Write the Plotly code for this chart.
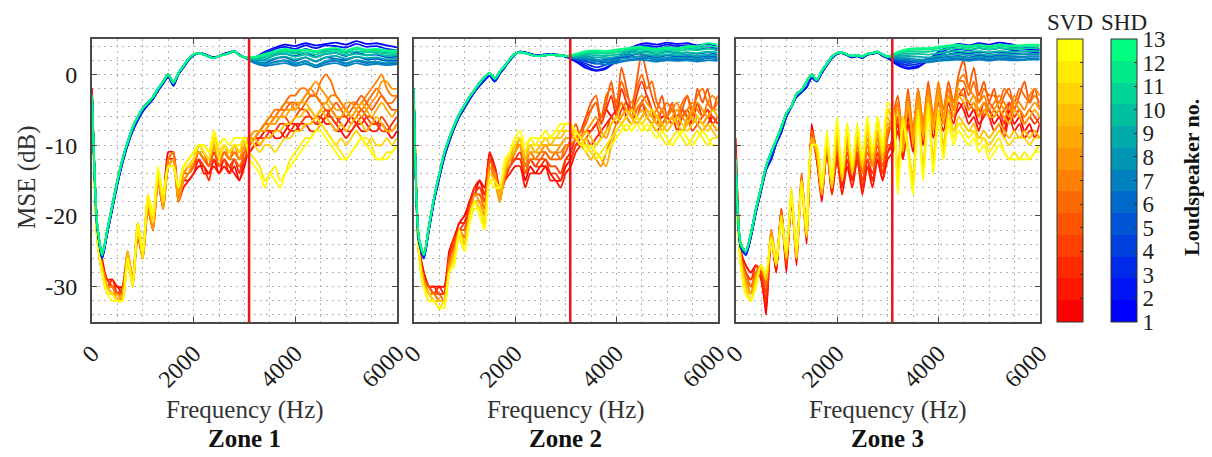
import plotly.graph_objects as go

W, H = 1212, 457
OFF = 8  # page offset of the figure (browser body margin)
FONT = "Liberation Serif"

# ---------------- axes / labels ----------------
FREQ_LOW = list(range(0, 3001, 100))        # shared low band grid (Hz)
FREQ_SVD_HIGH = list(range(3100, 6001, 100))
FREQ_SHD_HIGH = list(range(3200, 6001, 200))
DIVIDER_HZ = 3090
ZONES = ["Zone 1", "Zone 2", "Zone 3"]
X_TICKS = [0, 2000, 4000, 6000]
X_TICKTEXT = ["0", "2000", "4000", "6000"]
Y_TICKS = [-30, -20, -10, 0]
Y_TICKTEXT = ["-30", "-20", "-10", "0"]
SPEAKERS = list(range(1, 14))

# ---------------- Zone 1 ----------------
Z1_SVD_LOW = [
    [-2,-21,-26,-29,-29,-30,-30,-26,-29,-22,-26,-18,-21,-15,-18,-11,-11,-17,-15,-15,-14,-13,-13,-14,-12,-14,-13,-14,-13,-15,-13],
    [-2,-22,-27,-29,-30,-30,-31,-26,-30,-23,-26,-19,-22,-15,-19,-12,-11,-18,-16,-15,-14,-12,-14,-14,-13,-14,-12,-13,-14,-15,-12],
    [-3,-22,-27,-30,-29,-31,-30,-25,-29,-22,-25,-18,-21,-14,-18,-12,-12,-17,-15,-14,-13,-12,-13,-15,-12,-13,-12,-14,-12,-14,-11],
    [-3,-22,-27,-29,-30,-31,-31,-26,-29,-21,-25,-18,-21,-15,-19,-13,-12,-18,-14,-14,-13,-11,-12,-13,-11,-13,-12,-13,-12,-13,-12],
    [-3,-22,-27,-30,-30,-31,-31,-26,-30,-22,-25,-18,-21,-14,-18,-13,-12,-17,-14,-13,-12,-11,-12,-13,-10,-12,-11,-12,-11,-12,-11],
    [-3,-22,-28,-30,-31,-31,-32,-26,-29,-22,-26,-19,-22,-15,-19,-13,-12,-18,-15,-14,-13,-10,-11,-13,-10,-13,-11,-12,-12,-13,-11],
    [-3,-23,-28,-30,-30,-32,-31,-25,-29,-21,-25,-17,-21,-14,-18,-12,-11,-17,-14,-13,-12,-11,-12,-12,-9,-12,-10,-11,-11,-12,-10],
    [-3,-22,-27,-30,-31,-31,-32,-26,-30,-22,-25,-18,-22,-15,-18,-13,-13,-18,-15,-14,-12,-10,-11,-12,-9,-11,-10,-12,-10,-12,-10],
    [-3,-23,-28,-30,-31,-32,-31,-26,-29,-22,-26,-18,-21,-14,-19,-13,-12,-17,-14,-13,-12,-11,-11,-12,-10,-12,-10,-11,-10,-11,-10],
    [-3,-23,-28,-30,-31,-32,-32,-25,-29,-21,-25,-17,-20,-14,-18,-13,-13,-16,-13,-12,-11,-10,-11,-12,-9,-11,-10,-11,-10,-11,-9],
    [-3,-23,-28,-31,-31,-32,-32,-26,-30,-21,-25,-17,-20,-14,-17,-13,-13,-16,-13,-12,-11,-10,-10,-11,-8,-11,-10,-11,-10,-11,-9],
    [-3,-23,-28,-31,-31,-32,-32,-26,-30,-22,-26,-18,-21,-14,-18,-13,-13,-16,-13,-13,-12,-10,-11,-12,-9,-12,-10,-11,-10,-10,-9],
    [-3,-23,-28,-31,-32,-32,-32,-26,-30,-21,-25,-17,-20,-13,-17,-13,-13,-16,-13,-12,-11,-10,-10,-11,-8,-10,-9,-10,-9,-9,-9],
]
Z1_SVD_HIGH = [
    [-10,-9,-9,-8,-8,-9,-9,-8,-7,-7,-8,-7,-7,-6,-6,-7,-7,-8,-8,-7,-6,-7,-8,-8,-7,-7,-7,-8,-9,-8],
    [-11,-10,-10,-9,-9,-8,-8,-9,-8,-8,-7,-7,-8,-8,-7,-6,-6,-7,-8,-9,-8,-7,-6,-7,-8,-8,-7,-8,-8,-7],
    [-11,-10,-9,-9,-8,-8,-7,-7,-8,-7,-7,-6,-6,-7,-7,-6,-5,-6,-7,-8,-8,-7,-7,-6,-6,-7,-8,-8,-7,-6],
    [-10,-9,-8,-8,-7,-7,-6,-6,-7,-6,-5,-5,-6,-7,-6,-5,-6,-7,-6,-6,-7,-6,-5,-6,-7,-7,-6,-7,-8,-7],
    [-10,-9,-8,-7,-7,-6,-5,-5,-4,-4,-5,-4,-3,-3,-4,-5,-5,-4,-5,-6,-5,-4,-3,-4,-5,-4,-3,-4,-5,-5],
    [-9,-8,-8,-7,-6,-5,-5,-4,-3,-3,-2,-2,-3,-3,-1,0,-1,-3,-4,-5,-4,-4,-5,-4,-3,-2,-3,-4,-4,-3],
    [-9,-9,-8,-7,-6,-6,-5,-4,-4,-5,-4,-3,-2,-3,-4,-4,-3,-3,-4,-5,-6,-5,-4,-3,-2,-1,0,-2,-3,-3],
    [-10,-9,-8,-8,-7,-6,-6,-5,-5,-4,-4,-3,-2,-1,-2,-3,-4,-5,-5,-4,-4,-5,-6,-5,-4,-3,-1,-1,-2,-2],
    [-9,-8,-8,-8,-7,-7,-6,-6,-5,-5,-4,-4,-5,-6,-5,-4,-5,-6,-6,-5,-6,-5,-4,-5,-6,-5,-4,-5,-6,-5],
    [-9,-9,-10,-9,-9,-8,-8,-7,-7,-6,-6,-5,-5,-6,-5,-6,-7,-8,-7,-8,-7,-6,-7,-8,-7,-6,-7,-8,-8,-7],
    [-9,-10,-11,-10,-10,-11,-10,-9,-9,-8,-8,-7,-7,-6,-7,-8,-9,-10,-9,-10,-9,-8,-9,-10,-9,-10,-10,-9,-10,-9],
    [-11,-12,-13,-15,-14,-13,-15,-14,-12,-11,-10,-9,-9,-8,-7,-8,-9,-10,-11,-12,-11,-10,-9,-9,-10,-12,-12,-11,-11,-10],
    [-12,-13,-14,-16,-14,-15,-16,-14,-13,-12,-11,-10,-9,-8,-8,-9,-10,-11,-12,-12,-11,-10,-9,-10,-11,-12,-12,-12,-11,-10],
]
Z1_SHD_LOW = [-3,-21,-25.5,-22,-18.5,-15,-12,-9.6,-7.5,-6,-4.8,-4,-3.2,-2,-1,0,-1.2,0.2,1.2,2.2,2.8,3,2.8,2.5,2.3,2.6,2.8,3,3.3,2.7,2.4]
Z1_SHD_LOW_BLUE = [-3,-21.5,-26,-22.5,-19,-15.5,-12.5,-10,-8,-6.5,-5.2,-4.3,-3.5,-2.3,-1.3,-0.3,-1.6,0,1,2,2.7,3,2.9,2.6,2.4,2.6,2.9,3.1,3.3,2.8,2.4]
Z1_SHD_HIGH = [
    [2.4,3.2,3.8,4.2,4.0,4.4,4.1,4.3,4.5,4.2,4.7,4.3,4.4,4.1,3.8],
    [2.2,2.9,3.6,3.9,3.6,4.1,3.7,4.1,4.0,3.8,4.3,3.9,4.0,3.6,3.4],
    [2.1,2.5,3.2,3.5,3.0,3.6,3.2,3.4,3.6,3.1,3.7,3.3,3.2,3.0,2.9],
    [2.0,2.1,2.8,2.9,2.6,3.1,2.5,2.9,3.0,2.6,3.1,2.7,2.8,2.4,2.5],
    [1.8,1.6,2.2,2.4,1.9,2.4,1.8,2.4,2.2,2.0,2.5,2.1,2.2,1.9,2.0],
    [1.6,1.3,1.8,1.9,1.4,1.9,1.2,1.7,1.9,1.5,1.9,1.6,1.7,1.5,1.6],
    [1.7,1.2,1.4,1.6,1.2,1.5,1.0,1.4,1.6,1.2,1.6,1.3,1.5,1.3,1.4],
    [1.9,1.5,1.7,2.0,1.6,1.8,1.3,1.9,2.1,1.6,2.0,1.8,1.8,1.6,1.8],
    [2.1,1.9,2.3,2.5,2.1,2.4,1.9,2.4,2.6,2.2,2.5,2.3,2.4,2.1,2.3],
    [2.2,2.2,2.7,2.9,2.5,2.8,2.4,2.9,3.0,2.7,2.9,2.7,2.9,2.6,2.7],
    [2.3,2.5,3.0,3.2,2.9,3.1,2.8,3.2,3.3,3.0,3.3,3.1,3.2,2.9,3.0],
    [2.4,2.7,3.2,3.4,3.2,3.4,3.1,3.5,3.4,3.3,3.6,3.3,3.4,3.2,3.2],
    [2.5,2.9,3.3,3.6,3.4,3.5,3.3,3.6,3.7,3.4,3.8,3.5,3.6,3.4,3.4],
]

# ---------------- Zone 2 ----------------
Z2_SVD_LOW = [
    [-2,-24,-28,-30,-30,-30,-30,-25,-23,-21,-20,-18,-16,-15,-16,-11,-13,-16,-14,-13,-12,-12,-15,-13,-14,-13,-13,-14,-15,-15,-13],
    [-2,-24,-28,-30,-31,-30,-31,-26,-24,-21,-21,-18,-17,-15,-17,-11,-14,-17,-15,-14,-13,-13,-16,-14,-14,-14,-13,-15,-15,-16,-14],
    [-2,-24,-29,-30,-30,-31,-31,-26,-23,-22,-21,-19,-16,-16,-17,-12,-13,-17,-14,-13,-12,-11,-14,-12,-13,-13,-12,-14,-14,-15,-12],
    [-3,-25,-29,-30,-31,-31,-31,-26,-24,-22,-22,-19,-17,-16,-18,-12,-14,-17,-15,-13,-12,-12,-14,-12,-13,-12,-12,-13,-13,-14,-12],
    [-3,-24,-29,-30,-31,-31,-32,-26,-24,-22,-22,-19,-17,-17,-18,-12,-14,-18,-14,-13,-11,-10,-13,-11,-12,-12,-11,-12,-12,-12,-11],
    [-3,-25,-29,-31,-31,-32,-32,-27,-25,-22,-23,-20,-17,-17,-19,-13,-15,-18,-14,-12,-11,-10,-14,-12,-12,-11,-11,-12,-11,-12,-10],
    [-3,-25,-29,-31,-31,-32,-32,-27,-25,-23,-23,-20,-18,-18,-19,-13,-14,-17,-13,-12,-10,-10,-13,-11,-12,-11,-10,-11,-11,-11,-10],
    [-3,-25,-29,-31,-32,-32,-32,-27,-25,-22,-24,-20,-17,-18,-20,-13,-14,-17,-13,-12,-11,-9,-12,-10,-11,-11,-10,-11,-11,-10,-9],
    [-3,-25,-30,-31,-32,-32,-32,-28,-25,-23,-24,-20,-18,-18,-20,-14,-15,-18,-14,-12,-11,-10,-12,-11,-11,-10,-10,-10,-10,-10,-9],
    [-2,-25,-30,-31,-32,-32,-32,-28,-26,-22,-24,-20,-18,-19,-21,-14,-15,-17,-13,-12,-10,-9,-12,-10,-11,-10,-9,-10,-9,-9,-8],
    [-2,-25,-30,-31,-32,-33,-32,-28,-26,-23,-25,-20,-18,-19,-21,-14,-15,-16,-13,-11,-10,-9,-11,-10,-10,-10,-9,-9,-9,-8,-8],
    [-2,-25,-30,-32,-32,-33,-33,-28,-26,-23,-25,-21,-19,-19,-22,-15,-15,-16,-13,-11,-9,-9,-11,-9,-10,-9,-9,-9,-8,-8,-7],
    [-2,-25,-30,-32,-32,-33,-33,-28,-27,-22,-25,-21,-18,-20,-22,-15,-16,-16,-12,-11,-9,-8,-10,-9,-9,-9,-8,-9,-8,-7,-7],
]
Z2_SVD_HIGH = [
    [-12,-10,-9,-8,-8,-7,-6,-5,-6,-7,-6,-5,-6,-7,-6,-5,-6,-7,-6,-6,-7,-6,-5,-6,-7,-6,-7,-6,-7,-8],
    [-13,-11,-10,-9,-10,-9,-8,-7,-6,-5,-4,-6,-7,-5,-4,-6,-7,-8,-7,-6,-5,-7,-8,-7,-6,-7,-8,-7,-6,-7],
    [-11,-9,-8,-6,-5,-4,-7,-5,-3,-6,-2,-4,-6,-3,-1,-3,-5,-7,-5,-7,-6,-8,-6,-5,-7,-4,-6,-5,-7,-6],
    [-12,-10,-10,-9,-8,-7,-9,-8,-6,-7,-5,-4,-5,-6,-4,-3,-5,-6,-7,-8,-7,-6,-5,-6,-8,-7,-6,-5,-6,-7],
    [-9,-7,-9,-6,-4,-3,-7,-4,-1,-5,1,-2,-5,-1,3,0,-3,-5,-3,-6,-4,-7,-5,-3,-6,-2,-4,-2,-5,-3],
    [-10,-9,-8,-7,-5,-4,-6,-3,-2,-4,-1,-3,-4,-2,0,-2,-1,-4,-5,-4,-5,-6,-4,-3,-5,-3,-2,-4,-5,-4],
    [-10,-9,-9,-10,-11,-12,-13,-11,-9,-7,-6,-5,-6,-5,-4,-5,-6,-5,-7,-6,-5,-4,-6,-5,-4,-5,-6,-4,-3,-4],
    [-9,-8,-9,-8,-7,-6,-8,-9,-7,-6,-4,-5,-6,-4,-3,-4,-5,-6,-5,-7,-6,-5,-6,-7,-5,-4,-5,-6,-5,-5],
    [-9,-9,-10,-11,-12,-11,-12,-13,-10,-8,-7,-6,-7,-6,-5,-6,-7,-6,-8,-7,-6,-7,-8,-6,-5,-6,-7,-6,-5,-6],
    [-8,-8,-9,-8,-9,-10,-9,-8,-7,-6,-6,-5,-6,-7,-6,-5,-6,-7,-8,-7,-6,-7,-8,-7,-6,-7,-8,-7,-8,-9],
    [-8,-9,-10,-9,-11,-10,-9,-8,-7,-6,-7,-6,-5,-6,-7,-6,-5,-6,-7,-8,-7,-6,-7,-8,-7,-6,-7,-8,-7,-8],
    [-7,-9,-10,-10,-11,-12,-11,-10,-9,-8,-7,-8,-7,-6,-7,-8,-7,-8,-9,-10,-9,-8,-9,-10,-9,-8,-9,-10,-9,-9],
    [-7,-8,-9,-11,-10,-11,-12,-11,-10,-9,-8,-7,-8,-7,-8,-7,-8,-9,-8,-9,-10,-9,-8,-9,-10,-9,-8,-9,-10,-10],
]
Z2_SHD_LOW = [-2,-23,-25.5,-21.5,-17.5,-14.2,-11.2,-9,-7.2,-5.6,-4.4,-3.2,-2.2,-1.2,-0.4,0.2,-0.6,0.4,1.2,2.2,2.9,3.1,3.0,2.8,2.6,2.6,2.7,2.8,2.7,2.7,2.6]
Z2_SHD_LOW_BLUE = [-2,-23.5,-26,-22,-18,-14.8,-11.8,-9.5,-7.6,-6,-4.8,-3.6,-2.5,-1.6,-0.8,-0.2,-1.0,0.1,1.0,2.0,2.8,3.2,3.1,2.9,2.7,2.7,2.8,2.9,2.8,2.7,2.5]
Z2_SHD_HIGH = [
    [1.8,0.9,0.5,0.8,2.0,3.4,4.1,4.4,4.2,4.5,4.3,4.4,4.1,4.3,3.9],
    [1.9,1.2,0.6,1.0,1.8,3.0,3.8,4.1,3.9,4.2,4.0,4.1,3.8,4.0,3.6],
    [2.0,1.5,1.0,1.4,2.2,2.8,3.5,3.9,3.6,3.9,3.7,3.8,3.5,3.7,3.4],
    [2.1,1.8,1.5,1.8,2.3,2.5,2.9,3.2,2.9,3.2,3.0,3.1,2.9,3.1,2.8],
    [2.2,2.0,1.9,2.1,2.4,2.3,2.5,2.6,2.4,2.7,2.5,2.6,2.4,2.6,2.4],
    [2.2,2.1,2.0,1.7,1.8,2.0,2.2,2.3,2.0,2.2,2.1,2.2,2.0,2.3,2.1],
    [2.3,2.2,1.6,1.4,1.6,1.9,2.1,2.0,1.8,2.0,1.9,2.0,1.8,2.0,1.9],
    [2.4,2.4,2.1,1.9,2.1,2.3,2.5,2.4,2.2,2.4,2.3,2.4,2.2,2.4,2.3],
    [2.5,2.6,2.4,2.3,2.5,2.7,2.9,2.8,2.6,2.8,2.7,2.8,2.6,2.8,2.7],
    [2.6,2.8,2.7,2.6,2.8,3.0,3.2,3.1,2.9,3.1,3.0,3.1,3.0,3.2,3.1],
    [2.7,3.0,3.0,2.9,3.1,3.3,3.5,3.4,3.2,3.4,3.3,3.5,3.4,3.6,3.5],
    [2.8,3.2,3.2,3.1,3.3,3.5,3.7,3.6,3.4,3.6,3.5,3.8,3.7,4.0,3.9],
    [2.9,3.3,3.4,3.3,3.5,3.7,3.9,3.8,3.6,3.8,3.7,4.0,4.0,4.4,4.2],
]

# ---------------- Zone 3 ----------------
Z3_SVD_LOW = [
    [-9,-25,-27,-28,-27,-28,-34,-22,-28,-19,-28,-17,-27,-15,-24,-7,-12,-18,-10,-17,-11,-16,-12,-15,-11,-16,-12,-15,-12,-15,-11],
    [-10,-25,-27,-28,-27,-29,-33,-23,-28,-19,-27,-17,-26,-15,-23,-8,-12,-17,-10,-16,-12,-17,-13,-16,-12,-17,-13,-16,-12,-15,-12],
    [-11,-25,-28,-29,-27,-28,-32,-22,-27,-19,-27,-17,-26,-14,-23,-8,-11,-17,-11,-17,-12,-16,-12,-15,-12,-16,-13,-15,-11,-14,-11],
    [-12,-26,-28,-29,-28,-28,-31,-23,-27,-20,-27,-18,-25,-15,-22,-9,-12,-17,-11,-16,-11,-15,-11,-14,-11,-15,-12,-14,-11,-14,-10],
    [-13,-26,-28,-30,-28,-27,-30,-23,-27,-20,-26,-17,-26,-15,-23,-9,-11,-17,-10,-16,-10,-15,-10,-14,-10,-14,-11,-13,-10,-13,-9],
    [-13,-26,-29,-30,-28,-27,-30,-22,-27,-19,-26,-17,-26,-14,-23,-9,-11,-17,-10,-16,-9,-14,-9,-13,-10,-13,-10,-13,-9,-12,-8],
    [-14,-26,-29,-31,-28,-27,-29,-23,-27,-20,-26,-17,-25,-15,-22,-8,-11,-16,-9,-15,-10,-14,-10,-13,-9,-14,-10,-12,-9,-12,-8],
    [-14,-26,-29,-31,-29,-27,-29,-22,-26,-20,-26,-17,-26,-15,-23,-9,-11,-17,-10,-16,-9,-15,-9,-14,-9,-13,-9,-13,-8,-12,-7],
    [-15,-26,-30,-31,-29,-27,-29,-23,-27,-20,-26,-17,-26,-15,-23,-9,-11,-17,-9,-16,-8,-15,-8,-14,-9,-13,-8,-12,-8,-12,-6],
    [-16,-26,-30,-32,-29,-27,-29,-23,-27,-20,-26,-17,-26,-15,-23,-9,-11,-17,-9,-16,-7,-15,-7,-14,-8,-13,-7,-12,-6,-12,-5],
    [-16,-27,-30,-32,-29,-27,-29,-23,-27,-20,-26,-17,-26,-15,-23,-10,-10,-16,-9,-16,-7,-15,-7,-14,-8,-13,-7,-12,-6,-11,-5],
    [-17,-27,-31,-32,-30,-27,-28,-23,-27,-20,-25,-16,-25,-15,-22,-10,-10,-16,-9,-15,-7,-14,-8,-13,-8,-12,-7,-11,-7,-11,-5],
    [-17,-27,-31,-32,-30,-27,-28,-23,-26,-21,-25,-17,-25,-16,-22,-10,-10,-16,-8,-15,-6,-14,-7,-13,-7,-12,-6,-11,-6,-10,-4],
]
Z3_SVD_HIGH = [
    [-10,-7,-12,-6,-10,-5,-9,-6,-8,-5,-7,-4,-6,-5,-4,-6,-5,-7,-6,-5,-7,-6,-8,-5,-7,-6,-8,-7,-9,-7],
    [-11,-8,-12,-7,-11,-6,-10,-5,-9,-6,-8,-5,-7,-4,-5,-7,-6,-8,-5,-6,-8,-7,-9,-6,-8,-7,-9,-8,-8,-9],
    [-9,-6,-11,-5,-9,-4,-8,-4,-7,-3,-6,-4,-5,-3,-2,-5,-4,-6,-4,-5,-6,-5,-7,-4,-6,-5,-7,-6,-7,-6],
    [-10,-6,-10,-5,-9,-5,-8,-3,-7,-4,-6,-3,-5,-3,-3,-4,-5,-5,-6,-4,-5,-6,-5,-4,-6,-5,-6,-5,-6,-7],
    [-6,-3,-9,-2,-8,-2,-7,-1,-6,-2,-5,-1,-4,0,2,-2,1,-3,-1,-4,-2,-5,-3,-2,-5,-3,-1,-4,-2,-5],
    [-7,-4,-10,-3,-9,-3,-8,-2,-7,-3,-6,-2,-5,-1,-1,-3,-1,-4,-2,-3,-3,-4,-2,-3,-4,-2,-3,-4,-3,-4],
    [-6,-4,-9,-3,-8,-2,-7,-2,-6,-1,-5,-2,-4,-1,0,-2,-3,-4,-3,-5,-4,-3,-4,-5,-3,-4,-5,-3,-2,-3],
    [-7,-5,-10,-4,-9,-3,-8,-3,-7,-2,-6,-3,-5,-2,-3,-4,-3,-5,-4,-6,-5,-4,-5,-6,-4,-5,-6,-5,-4,-5],
    [-8,-5,-11,-4,-10,-4,-9,-3,-8,-3,-7,-3,-6,-3,-4,-5,-4,-6,-5,-6,-6,-5,-6,-7,-5,-6,-7,-6,-5,-6],
    [-7,-13,-6,-11,-14,-5,-13,-4,-12,-5,-10,-5,-8,-6,-7,-8,-7,-9,-8,-9,-8,-7,-8,-9,-8,-9,-8,-9,-8,-9],
    [-6,-15,-6,-10,-15,-5,-14,-4,-13,-5,-11,-6,-8,-7,-7,-8,-8,-9,-9,-10,-9,-8,-9,-10,-9,-9,-9,-10,-9,-9],
    [-5,-16,-6,-10,-16,-5,-15,-4,-14,-5,-12,-6,-9,-7,-8,-9,-8,-10,-9,-11,-10,-9,-11,-12,-11,-12,-11,-12,-11,-10],
    [-5,-17,-7,-11,-17,-6,-15,-5,-14,-6,-12,-7,-10,-8,-9,-10,-9,-11,-10,-12,-11,-10,-11,-12,-12,-12,-12,-12,-11,-11],
]
Z3_SHD_LOW = [-12,-24,-25,-22.5,-19,-16,-13,-11,-9.3,-7.5,-5.5,-4.5,-2.8,-2.2,-1.0,0,-0.8,0.5,1.5,2.5,3,3.1,2.8,2.6,2.7,2.5,2.9,3,3.2,2.8,2.5]
Z3_SHD_LOW_BLUE = [-12,-24.5,-25.5,-23,-19.5,-16.5,-13.5,-12,-9.8,-8.2,-6,-4.6,-3.2,-2.5,-1.8,-0.5,-1,0.2,1.3,2.3,2.9,3,2.7,2.4,2.6,2.3,2.8,2.9,3.1,2.6,2.3]
Z3_SHD_HIGH = [
    [1.3,0.8,1.0,2.0,3.2,3.9,4.3,4.1,4.4,4.2,4.5,4.3,4.0,3.8,3.6],
    [1.5,1.0,1.2,1.9,2.9,3.6,4.0,3.8,4.1,3.9,4.1,3.9,3.7,3.5,3.4],
    [1.7,1.3,1.5,2.0,2.7,3.2,3.6,3.4,3.7,3.5,3.7,3.5,3.3,3.2,3.1],
    [1.9,1.6,1.8,2.1,2.5,2.8,3.1,2.9,3.2,3.0,3.2,3.0,2.9,2.8,2.8],
    [2.0,1.8,2.0,2.2,2.3,2.5,2.6,2.4,2.7,2.5,2.7,2.6,2.5,2.5,2.5],
    [2.1,2.0,1.7,1.9,2.0,2.2,2.3,2.1,2.3,2.1,2.3,2.2,2.1,2.2,2.2],
    [2.2,2.1,1.8,1.7,1.9,2.0,2.1,1.9,2.1,1.9,2.1,2.0,2.0,2.1,2.1],
    [2.4,2.3,2.1,2.0,2.2,2.4,2.5,2.3,2.5,2.3,2.5,2.4,2.4,2.5,2.5],
    [2.6,2.6,2.5,2.4,2.6,2.8,2.9,2.7,2.9,2.7,2.9,2.8,2.8,2.9,2.9],
    [2.8,2.9,2.9,2.8,3.0,3.2,3.3,3.1,3.3,3.1,3.3,3.2,3.2,3.3,3.3],
    [3.0,3.2,3.2,3.2,3.4,3.6,3.7,3.5,3.7,3.5,3.7,3.6,3.6,3.7,3.7],
    [3.1,3.4,3.5,3.5,3.7,3.9,4.0,3.8,4.0,3.8,4.0,3.9,3.9,4.0,4.0],
    [3.2,3.6,3.7,3.7,3.9,4.1,4.2,4.0,4.2,4.0,4.2,4.1,4.1,4.2,4.2],
]

ZONE_DATA = [
    (Z1_SVD_LOW, Z1_SVD_HIGH, Z1_SHD_LOW, Z1_SHD_LOW_BLUE, Z1_SHD_HIGH),
    (Z2_SVD_LOW, Z2_SVD_HIGH, Z2_SHD_LOW, Z2_SHD_LOW_BLUE, Z2_SHD_HIGH),
    (Z3_SVD_LOW, Z3_SVD_HIGH, Z3_SHD_LOW, Z3_SHD_LOW_BLUE, Z3_SHD_HIGH),
]

# ---------------- geometry (page pixels) ----------------
PANELS_PX = [(92, 397), (413.7, 717.7), (735.7, 1039.7)]
PLOT_TOP, PLOT_BOT = 39, 322


def fx(px):
    return (px - OFF) / W


def fy(py):
    return 1 - (py - OFF) / H


def autumn(k):
    t = (k - 1) / 12
    return f"rgb(255,{round(255 * t)},0)"


def winter(k):
    t = (k - 1) / 12
    return f"rgb(0,{round(255 * t)},{round(255 * (1 - 0.5 * t))})"


fig = go.Figure()
GRID = dict(gridcolor="#b4b4b4", gridwidth=1, griddash="2px,4px")
AX_COMMON = dict(showline=True, linecolor="#4a4a4a", linewidth=1.8, mirror="ticks",
                 ticks="inside", ticklen=5, tickcolor="#4a4a4a", zeroline=False,
                 showgrid=True, **GRID,
                 tickfont=dict(family=FONT, size=24, color="#1a1a1a"))

for zi, (svd_low, svd_high, shd_low, shd_low_blue, shd_high) in enumerate(ZONE_DATA):
    sfx = "" if zi == 0 else str(zi + 1)
    xa, ya = "x" + sfx, "y" + sfx
    for k in SPEAKERS:
        lo, hi = svd_low[k - 1], svd_high[k - 1]
        assert len(lo) == len(FREQ_LOW) and len(hi) == len(FREQ_SVD_HIGH), (zi, "svd", k, len(lo), len(hi))
        fig.add_trace(go.Scatter(x=FREQ_LOW + FREQ_SVD_HIGH, y=lo + hi, mode="lines",
                                 line=dict(color=autumn(k), width=1.8, shape="spline", smoothing=0.6),
                                 xaxis=xa, yaxis=ya, showlegend=False, hoverinfo="skip"))
    for k in SPEAKERS:
        lo = shd_low_blue if k <= 3 else shd_low
        hi = shd_high[k - 1]
        assert len(lo) == len(FREQ_LOW) and len(hi) == len(FREQ_SHD_HIGH), (zi, "shd", k, len(lo), len(hi))
        fig.add_trace(go.Scatter(x=FREQ_LOW + FREQ_SHD_HIGH, y=lo + hi, mode="lines",
                                 line=dict(color=winter(k), width=1.8, shape="spline", smoothing=0.6),
                                 xaxis=xa, yaxis=ya, showlegend=False, hoverinfo="skip"))
    x0, x1 = PANELS_PX[zi]
    fig.update_layout({
        "xaxis" + sfx: dict(domain=[fx(x0), fx(x1)], range=[0, 6000], anchor=ya,
                            tickmode="array", tickvals=X_TICKS, ticktext=X_TICKTEXT,
                            tickangle=-45, ticklabelstandoff=6,
                            minor=dict(tickmode="linear", tick0=0, dtick=500, showgrid=True, **GRID),
                            **AX_COMMON),
        "yaxis" + sfx: dict(domain=[fy(PLOT_BOT), fy(PLOT_TOP)], range=[-35, 5], anchor=xa,
                            tickmode="array", tickvals=Y_TICKS, ticktext=Y_TICKTEXT,
                            showticklabels=(zi == 0), ticklabelstandoff=8,
                            minor=dict(tickmode="linear", tick0=0, dtick=2, showgrid=True, **GRID),
                            **AX_COMMON),
    })
    fig.add_shape(type="line", xref=xa, yref=ya + " domain", x0=DIVIDER_HZ, x1=DIVIDER_HZ,
                  y0=0, y1=1, line=dict(color="rgb(238,20,20)", width=2.5), layer="above")
    cx = fx((x0 + x1) / 2)
    fig.add_annotation(text="Frequency (Hz)", x=cx, y=fy(410), xref="paper", yref="paper",
                       xanchor="center", yanchor="middle",
                       showarrow=False, font=dict(family=FONT, size=25, color="#333"))
    fig.add_annotation(text="<b>" + ZONES[zi] + "</b>", x=cx, y=fy(438), xref="paper", yref="paper",
                       xanchor="center", yanchor="middle",
                       showarrow=False, font=dict(family=FONT, size=25, color="#111"))


def stepped(colors):
    n = len(colors)
    scale = []
    for i, c in enumerate(colors):
        scale += [[i / n, c], [(i + 1) / n, c]]
    return scale


BAR_H = PLOT_BOT - PLOT_TOP
for left_px, cmap, labels in [(1057, autumn, False), (1111, winter, True)]:
    fig.add_trace(go.Scatter(
        x=[None], y=[None], mode="markers", showlegend=False, hoverinfo="skip",
        marker=dict(color=[1], cmin=1, cmax=13, colorscale=stepped([cmap(k) for k in SPEAKERS]),
                    showscale=True,
                    colorbar=dict(x=fx(left_px), xanchor="left", y=fy((PLOT_TOP + PLOT_BOT) / 2),
                                  yanchor="middle", len=BAR_H, lenmode="pixels",
                                  thickness=26, thicknessmode="pixels", xpad=0, ypad=0,
                                  outlinewidth=1, outlinecolor="#333",
                                  tickmode="array", tickvals=SPEAKERS, ticktext=[str(s) for s in SPEAKERS],
                                  showticklabels=labels, ticks="inside", ticklen=3, tickcolor="#333",
                                  tickfont=dict(family=FONT, size=23, color="#222"))),
    ))

for txt, px in [("SVD", 1070), ("SHD", 1124)]:
    fig.add_annotation(text=txt, x=fx(px), y=fy(23), xref="paper", yref="paper", showarrow=False,
                       xanchor="center", yanchor="middle", font=dict(family=FONT, size=23, color="#222"))
fig.add_annotation(text="<b>Loudspeaker no.</b>", x=fx(1192), y=fy(178), xref="paper", yref="paper",
                   xanchor="center", yanchor="middle",
                   showarrow=False, textangle=-90, font=dict(family=FONT, size=22, color="#111"))
fig.add_annotation(text="MSE (dB)", x=fx(27), y=fy(178), xref="paper", yref="paper",
                   xanchor="center", yanchor="middle",
                   showarrow=False, textangle=-90, font=dict(family=FONT, size=25, color="#333"))

fig.update_layout(width=W, height=H, margin=dict(l=0, r=0, t=0, b=0, autoexpand=False),
                  paper_bgcolor="white", plot_bgcolor="white", showlegend=False)

fig.write_html("out.html")
